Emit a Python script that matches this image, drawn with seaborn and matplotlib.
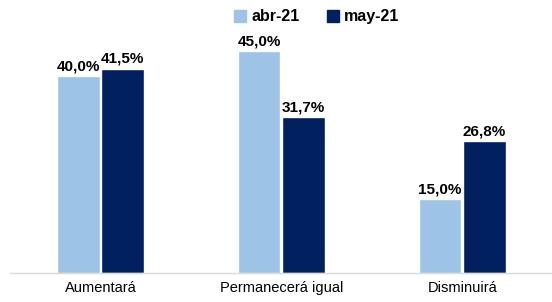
import matplotlib
matplotlib.use("Agg")
import matplotlib.pyplot as plt
import seaborn as sns
import pandas as pd
from matplotlib.lines import Line2D

categories = ["Aumentará", "Permanecerá igual", "Disminuirá"]
series = ["abr-21", "may-21"]
abr_values = [40.0, 45.0, 15.0]
may_values = [41.5, 31.7, 26.8]
colors = ["#9DC3E6", "#002060"]

df = pd.DataFrame({
    "cat": categories * 2,
    "serie": [series[0]] * 3 + [series[1]] * 3,
    "val": abr_values + may_values,
})

sns.set_theme(style="white")
plt.rcParams["font.family"] = ["Liberation Sans", "DejaVu Sans"]

fig = plt.figure(figsize=(5.52, 3.02), dpi=100)
ax = fig.add_axes([0.018, 0.096, 0.99, 0.815])
sns.barplot(data=df, x="cat", y="val", hue="serie", palette=colors,
            width=0.49, gap=0.04, ax=ax, legend=False, saturation=1)

for cont in ax.containers:
    labels = [f"{v:.1f}%".replace(".", ",") for v in cont.datavalues]
    ax.bar_label(cont, labels=labels, padding=2, fontsize=11, fontweight="bold", color="#000000")

ax.set_ylim(0, 50)
ax.set_xlim(-0.5, 2.52)
ax.set_xlabel("")
ax.set_ylabel("")
ax.set_yticks([])
ax.tick_params(axis="x", length=0, labelsize=10.5, colors="#000000", pad=6)
for s in ["top", "right", "left"]:
    ax.spines[s].set_visible(False)
ax.spines["bottom"].set_color("#D9D9D9")
ax.spines["bottom"].set_linewidth(1)

handles = [Line2D([0], [0], marker="s", linestyle="", markersize=8,
                  markerfacecolor=c, markeredgecolor=c) for c in colors]
fig.legend(handles, series, loc="center", bbox_to_anchor=(0.572, 0.945), ncol=2,
           frameon=False, prop={"weight": "bold", "size": 11.5}, labelcolor="#000000",
           handletextpad=0.2, columnspacing=1.6, handlelength=1.0)

fig.savefig("out.png", dpi=100)
